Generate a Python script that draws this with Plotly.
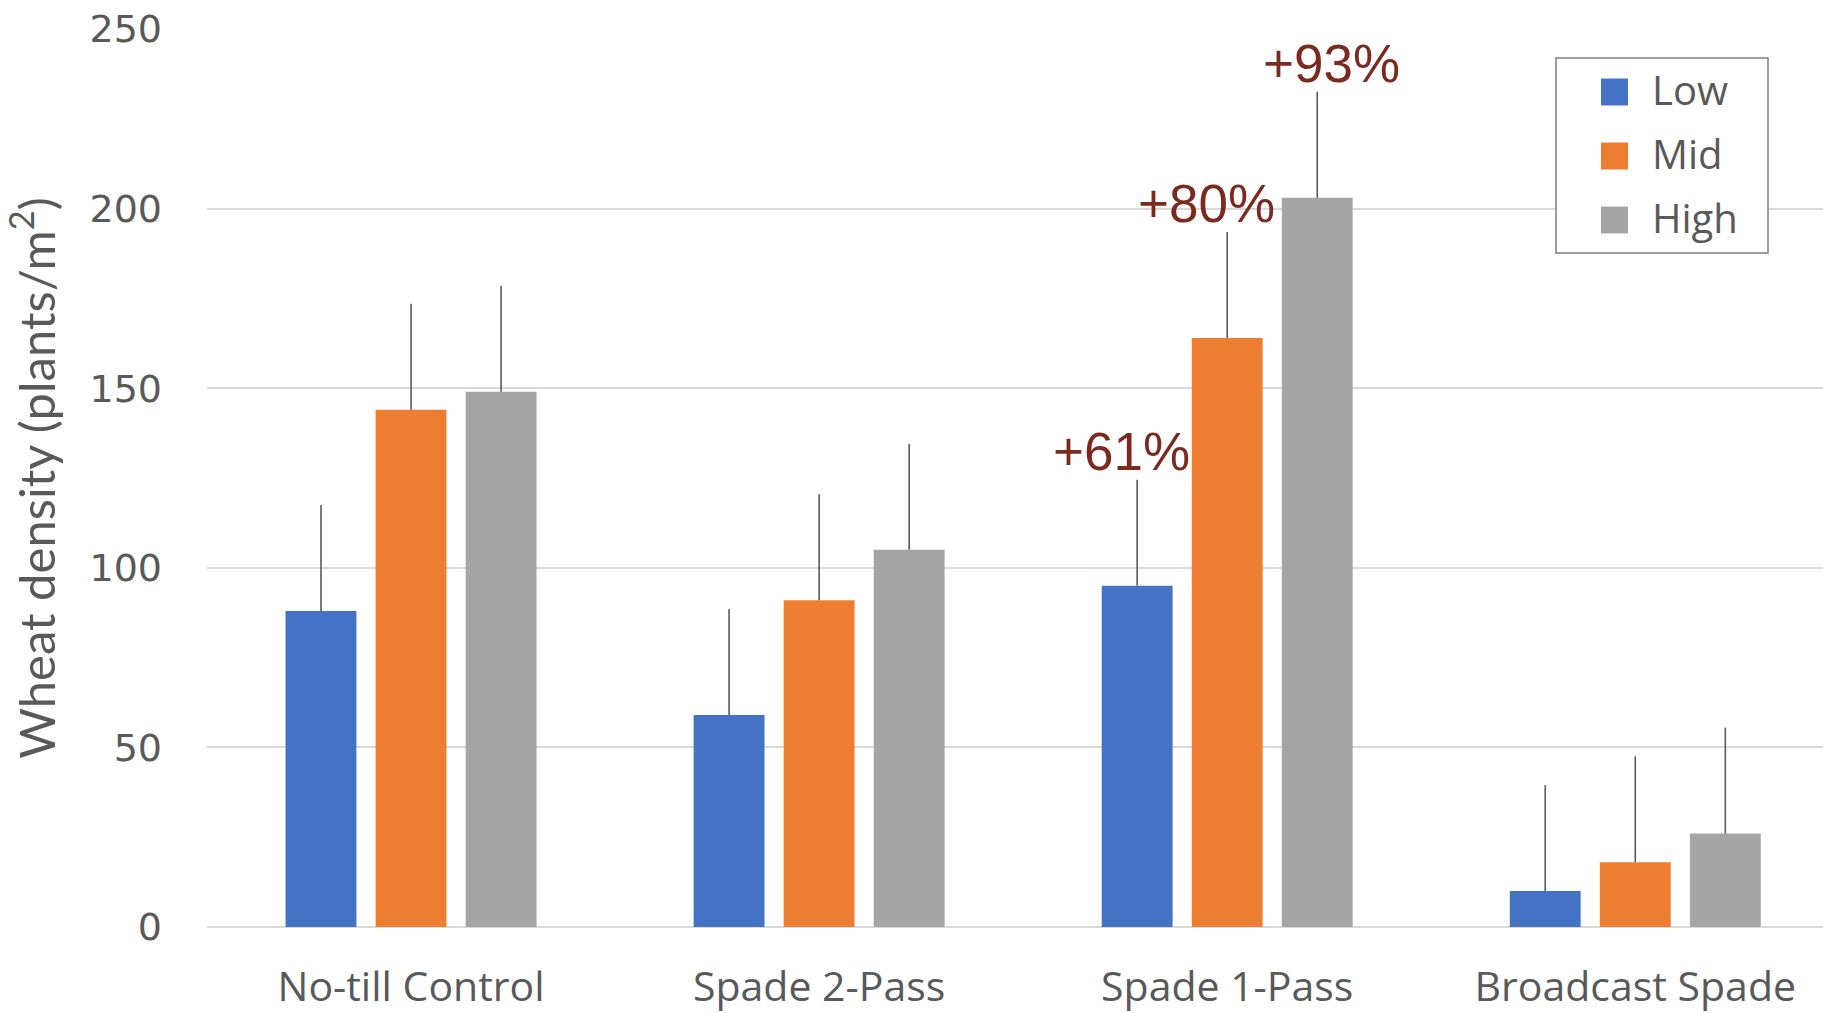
import plotly.graph_objects as go

# Wheat stand density by tillage treatment and seeding rate
treatments = ["No-till Control", "Spade 2-Pass", "Spade 1-Pass", "Broadcast Spade"]
rates = ["Low", "Mid", "High"]
low = [88, 59, 95, 10]
mid = [144, 91, 164, 18]
high = [149, 105, 203, 26]
low_err = [29.5, 29.5, 29.5, 29.5]
mid_err = [29.5, 29.5, 29.5, 29.5]
high_err = [29.5, 29.5, 29.5, 29.5]
y_ticks = [0, 50, 100, 150, 200, 250]

colors = ["#4472C4", "#ED7D31", "#A5A5A5"]
series = [low, mid, high]
errors = [low_err, mid_err, high_err]

W, H = 1823, 1013
L, R, T, B = 207, 0, 29, 86
PW, PH = W - L - R, H - T - B

fig = go.Figure()
for name, vals, err, col in zip(rates, series, errors, colors):
    fig.add_trace(go.Bar(
        name=name, x=treatments, y=vals, marker_color=col,
        marker_line_width=0, showlegend=False,
        error_y=dict(type="data", symmetric=False, array=err,
                     arrayminus=[0] * len(err), color="#595959",
                     thickness=1.6, width=0),
    ))

# Percent gain of Spade 1-Pass over Spade 2-Pass for each seeding rate
ref_i, tgt_i = treatments.index("Spade 2-Pass"), treatments.index("Spade 1-Pass")
offsets = [-0.221, 0.0, 0.221]
xshifts = [-16, -21, 14]
annotations = []
for k, (vals, err) in enumerate(zip(series, errors)):
    gain = round((vals[tgt_i] / vals[ref_i] - 1) * 100)
    annotations.append(dict(
        x=tgt_i + offsets[k], y=vals[tgt_i] + err[tgt_i], xref="x", yref="y",
        text=f"+{gain}%", showarrow=False, xanchor="center", yanchor="bottom",
        xshift=xshifts[k], yshift=-3,
        font=dict(family="Liberation Sans, Arial", size=53, color="#7B2A20"),
    ))


def px(xp):
    return (xp - L) / PW


def py(yp):
    return (H - B - yp) / PH


# Legend box with swatches
shapes = [dict(type="rect", xref="paper", yref="paper",
               x0=px(1556), x1=px(1768), y0=py(253), y1=py(58),
               line=dict(color="#7F7F7F", width=1.5), fillcolor="white",
               layer="above")]
row_y = [92, 156, 220]
for name, col, ry in zip(rates, colors, row_y):
    shapes.append(dict(type="rect", xref="paper", yref="paper",
                       x0=px(1601), x1=px(1628), y0=py(ry + 13.5), y1=py(ry - 13.5),
                       line=dict(width=0), fillcolor=col, layer="above"))
    annotations.append(dict(x=px(1650), y=py(ry - 2.5), xref="paper", yref="paper",
                            text=name, showarrow=False, xanchor="left",
                            yanchor="middle",
                            font=dict(family="Open Sans", size=40, color="#595959")))

fig.update_layout(
    width=W, height=H,
    margin=dict(l=L, r=R, t=T, b=B, pad=0),
    paper_bgcolor="white", plot_bgcolor="white",
    barmode="group", bargap=0.338, bargroupgap=0.213,
    annotations=annotations, shapes=shapes,
    showlegend=False,
)
fig.update_xaxes(
    range=[-0.5, 3.46], showgrid=False, showline=False, zeroline=False,
    ticks="", automargin=False, ticklabelstandoff=32,
    tickfont=dict(family="Open Sans", size=41, color="#595959"),
)
fig.update_yaxes(
    range=[0, 250], tickvals=y_ticks, showgrid=True, gridcolor="#D9D9D9",
    gridwidth=1.8, zeroline=True, zerolinecolor="#D9D9D9", zerolinewidth=1.8,
    showline=False, ticks="", automargin=False, ticklabelstandoff=44,
    tickfont=dict(family="DejaVu Sans", size=38, color="#595959"),
    title=dict(text="Wheat density (plants/m<sup>2</sup>)", standoff=18,
               font=dict(family="Lato", size=49, color="#595959")),
)

fig.write_html("out.html")
